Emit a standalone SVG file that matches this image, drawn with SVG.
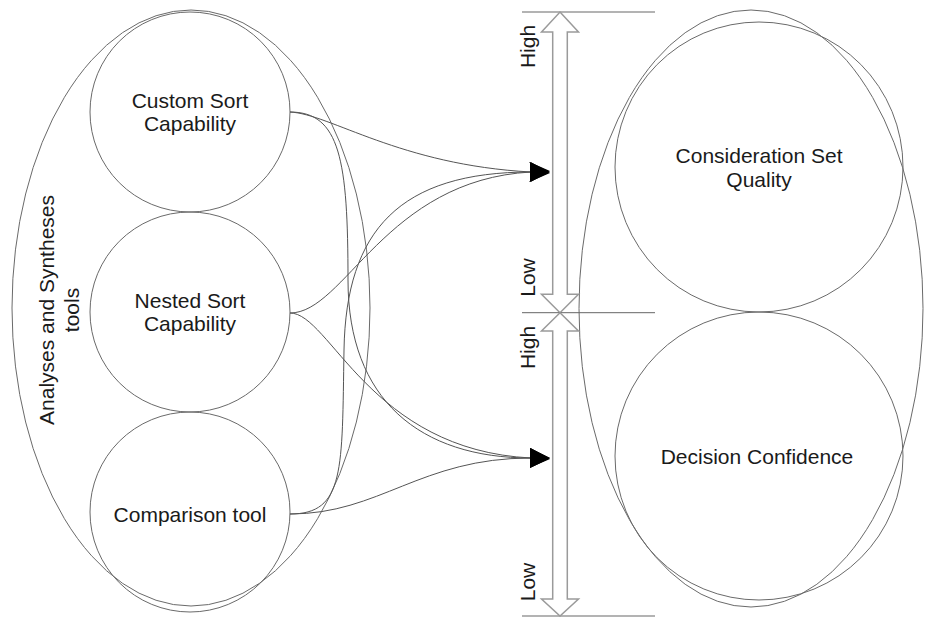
<svg xmlns="http://www.w3.org/2000/svg" width="925" height="617" viewBox="0 0 925 617">
<style>
.sh{fill:none;stroke:#6a6a6a;stroke-width:1}
.lbl{font-family:"Liberation Sans",Arial,sans-serif;font-size:21px;fill:#1a1a1a;text-anchor:middle}
.dbl{fill:#fff;stroke:#9a9a9a;stroke-width:1.5}
.rule{stroke:#9a9a9a;stroke-width:1.5}
.con{fill:none;stroke:#555;stroke-width:1}
</style>
<defs>
<marker id="ah" viewBox="0 0 20 20" refX="1" refY="10" markerWidth="20" markerHeight="20" markerUnits="userSpaceOnUse" orient="auto">
<path d="M0,0 L20,10 L0,20 Z" fill="#000"/>
</marker>
</defs>
<rect width="925" height="617" fill="#fff"/>

<g id="analyses-group">
<ellipse class="sh" cx="191" cy="308" rx="179" ry="298"/>
<text class="lbl" transform="translate(54,310) rotate(-90)">Analyses and Syntheses</text>
<text class="lbl" transform="translate(79,310) rotate(-90)">tools</text>
</g>
<g id="custom-sort">
<ellipse class="sh" cx="190" cy="112" rx="100" ry="100"/>
<text class="lbl" x="190" y="108">Custom Sort</text>
<text class="lbl" x="190" y="131">Capability</text>
</g>
<g id="nested-sort">
<ellipse class="sh" cx="190" cy="312" rx="100" ry="100"/>
<text class="lbl" x="190" y="308">Nested Sort</text>
<text class="lbl" x="190" y="331">Capability</text>
</g>
<g id="comparison-tool">
<ellipse class="sh" cx="190" cy="512" rx="100" ry="100"/>
<text class="lbl" x="190" y="522">Comparison tool</text>
</g>

<g id="outcomes-group">
<ellipse class="sh" cx="751" cy="308.5" rx="172" ry="298.5"/>
</g>
<g id="consideration-set-quality">
<ellipse class="sh" cx="759" cy="167" rx="144" ry="145"/>
<text class="lbl" x="759" y="163">Consideration Set</text>
<text class="lbl" x="759" y="187">Quality</text>
</g>
<g id="decision-confidence">
<ellipse class="sh" cx="759" cy="456" rx="144" ry="144"/>
<text class="lbl" x="757" y="464">Decision Confidence</text>
</g>

<g id="scale-upper">
<line class="rule" x1="522" y1="12" x2="655" y2="12"/>
<polygon class="dbl" points="560,12 578.5,32 567.3,32 567.3,294.3 578.5,294.3 560,312.7 541.5,294.3 552.7,294.3 552.7,32 541.5,32"/>
<text class="lbl" transform="translate(535,46.5) rotate(-90)">High</text>
<text class="lbl" transform="translate(535,277.5) rotate(-90)">Low</text>
</g>
<g id="scale-lower">
<line x1="522" y1="312.7" x2="655" y2="312.7" stroke="#666" stroke-width="1"/>
<polygon class="dbl" points="560,312.7 578.5,331 567.3,331 567.3,599 578.5,599 560,616 541.5,599 552.7,599 552.7,331 541.5,331"/>
<line class="rule" x1="522" y1="616" x2="655" y2="616"/>
<text class="lbl" transform="translate(535,347.5) rotate(-90)">High</text>
<text class="lbl" transform="translate(535,582) rotate(-90)">Low</text>
</g>

<g id="connectors">
<path class="con" marker-end="url(#ah)" d="M290,112 C330,114 400,165 531,172"/>
<path class="con" marker-end="url(#ah)" d="M290,112 C340,112 348,160 348,280 C348,400 420,458 531,458"/>
<path class="con" marker-end="url(#ah)" d="M290,313 C345,313 385,180 531,172"/>
<path class="con" marker-end="url(#ah)" d="M290,313 C330,313 370,450 531,458"/>
<path class="con" marker-end="url(#ah)" d="M290,514 C345,514 342,470 344,350 C346,230 400,172 531,172"/>
<path class="con" marker-end="url(#ah)" d="M290,514 C380,514 420,458 531,458"/>
</g>
</svg>
